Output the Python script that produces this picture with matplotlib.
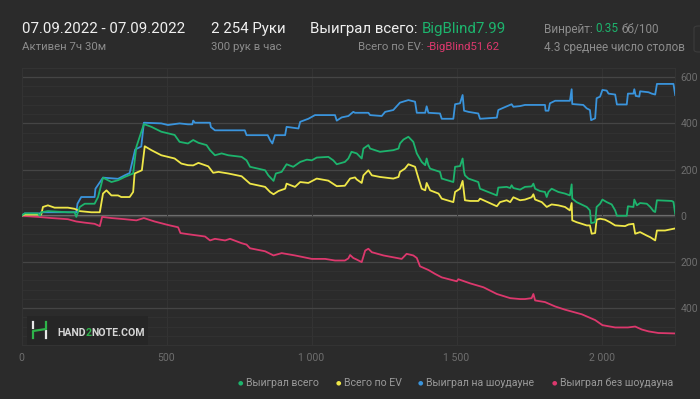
import matplotlib.pyplot as plt
from matplotlib.lines import Line2D
from matplotlib.patches import Rectangle, FancyBboxPatch

plt.rcParams['font.family'] = ['Roboto', 'DejaVu Sans']

# ---- data (hands, big blinds) ----
green_x = [0, 11, 57, 63, 68, 91, 160, 183, 189, 201, 218, 252, 264, 281, 310, 333, 356, 385, 396, 422,
           448, 482, 528, 545, 574, 592, 610, 638, 650, 667, 690, 713, 759, 776, 788, 840, 851, 869, 877,
           897, 914, 937, 961, 984, 1001, 1018, 1058, 1075, 1087, 1115, 1127, 1138, 1156, 1173, 1179, 1196,
           1202, 1236, 1282, 1300, 1305, 1317, 1334, 1351, 1363, 1380, 1392, 1397, 1403, 1409, 1443, 1449,
           1489, 1495, 1512, 1521, 1526, 1529, 1541, 1575, 1581, 1639, 1644, 1673, 1685, 1690, 1696, 1719,
           1736, 1759, 1765, 1771, 1788, 1805, 1811, 1817, 1828, 1851, 1874, 1891, 1897, 1899, 1914, 1949,
           1960, 1964, 1978, 1983, 1995, 2003, 2018, 2035, 2047, 2053, 2087, 2091, 2110, 2113, 2122, 2133,
           2156, 2168, 2179, 2185, 2191, 2242, 2248, 2254]
green_y = [0, 10, 10, 0, 15, 20, 15, 15, -5, 38, 52, 52, 81, 165, 146, 154, 168, 183, 298, 397,
           385, 364, 350, 320, 313, 328, 316, 306, 284, 262, 270, 262, 255, 240, 212, 197, 175, 151, 183,
           190, 223, 212, 233, 243, 240, 252, 255, 240, 223, 233, 248, 277, 270, 248, 291, 306,
           291, 277, 284, 291, 313, 330, 342, 320, 270, 233, 219, 248, 219, 204, 190, 161,
           146, 212, 215, 248, 190, 175, 161, 146, 117, 88, 122, 125, 120, 132, 120, 113,
           125, 127, 139, 117, 107, 103, 81, 103, 117, 103, 96, 88, 136, 74, 59, 38,
           23, -32, -28, 38, 52, 70, 59, 49, 23, 0, 0, 41, 38, 70, 45, 55,
           52, 38, 20, 16, 67, 64, 60, 8]

ev_x = [0, 11, 68, 74, 91, 114, 160, 183, 201, 241, 270, 281, 293, 310, 333, 344, 373, 385, 390, 415,
        425, 448, 482, 528, 551, 574, 592, 610, 644, 661, 679, 713, 759, 788, 840, 857, 869, 886, 909,
        914, 943, 961, 989, 1018, 1058, 1087, 1115, 1133, 1150, 1156, 1173, 1179, 1196, 1208, 1236, 1282,
        1300, 1305, 1322, 1334, 1357, 1369, 1380, 1392, 1397, 1409, 1438, 1449, 1489, 1495, 1512, 1521,
        1529, 1547, 1575, 1581, 1639, 1650, 1673, 1685, 1696, 1719, 1736, 1759, 1765, 1771, 1794, 1811,
        1828, 1851, 1874, 1891, 1897, 1899, 1914, 1932, 1949, 1960, 1966, 1978, 1983, 1995, 2012, 2029,
        2047, 2081, 2093, 2110, 2116, 2133, 2156, 2168, 2185, 2191, 2219, 2254]
ev_y = [0, 5, 5, 38, 45, 35, 35, 30, 20, 15, 15, 96, 110, 88, 88, 81, 81, 103, 183, 197,
        301, 284, 262, 248, 226, 219, 218, 229, 214, 186, 190, 183, 171, 139, 125, 103, 93, 107, 117,
        139, 125, 146, 142, 161, 152, 128, 130, 161, 166, 157, 142, 175, 197, 175, 168, 161,
        168, 190, 204, 223, 212, 161, 117, 110, 142, 110, 96, 74, 59, 103, 117, 151,
        67, 64, 64, 74, 41, 59, 67, 59, 80, 67, 70, 80, 93, 70, 59, 38,
        49, 45, 38, 23, 55, -20, -28, -35, -42, -42, -78, -75, -17, -13, -17, -28,
        -42, -45, -38, -35, -78, -71, -86, -93, -107, -64, -64, -55]

sd_x = [0, 11, 63, 68, 189, 193, 206, 252, 255, 281, 333, 356, 373, 392, 413, 422, 482, 505, 545, 574,
        589, 592, 598, 650, 653, 667, 770, 776, 849, 857, 865, 874, 909, 914, 955, 961, 989, 1012, 1081,
        1087, 1104, 1127, 1144, 1150, 1196, 1202, 1242, 1254, 1282, 1305, 1334, 1357, 1363, 1392, 1397,
        1403, 1443, 1449, 1489, 1495, 1512, 1521, 1526, 1541, 1575, 1581, 1639, 1644, 1662, 1690, 1696,
        1719, 1736, 1805, 1807, 1817, 1822, 1840, 1891, 1897, 1899, 1937, 1949, 1960, 1964, 1978, 1983,
        1995, 2003, 2018, 2024, 2047, 2053, 2087, 2091, 2110, 2113, 2118, 2130, 2133, 2162, 2173, 2185,
        2191, 2248, 2254]
sd_y = [0, 10, 10, 15, 15, 52, 81, 81, 117, 165, 160, 175, 185, 287, 300, 403, 400, 393, 400, 396,
        396, 412, 403, 403, 384, 370, 370, 349, 349, 328, 313, 349, 349, 385, 378, 407, 420, 436, 436,
        412, 426, 432, 450, 446, 446, 436, 432, 450, 458, 490, 501, 494, 446, 446, 474,
        446, 443, 420, 420, 483, 487, 523, 455, 450, 443, 420, 425, 458, 468, 483, 472,
        475, 480, 480, 455, 455, 487, 498, 498, 548, 484, 480, 465, 458, 414, 422, 509,
        516, 545, 542, 529, 525, 482, 482, 529, 529, 548, 519, 516, 539, 535, 529, 525,
        571, 571, 523]

nsd_x = [0, 57, 103, 160, 189, 218, 252, 270, 278, 310, 356, 396, 422, 459, 505, 540, 548, 574, 633, 650,
         667, 702, 719, 759, 776, 788, 840, 869, 897, 943, 1001, 1047, 1081, 1115, 1127, 1133, 1144, 1156,
         1173, 1185, 1196, 1208, 1248, 1311, 1328, 1351, 1363, 1374, 1403, 1426, 1449, 1501, 1506, 1547,
         1593, 1639, 1685, 1719, 1736, 1759, 1765, 1771, 1805, 1840, 1874, 1932, 1978, 2003, 2047, 2091,
         2116, 2139, 2162, 2196, 2254]
nsd_y = [0, -5, -10, -15, -25, -30, -35, -45, -5, -10, -15, -20, -10, -25, -40, -50, -75, -80, -90, -107,
         -100, -107, -100, -119, -125, -141, -154, -172, -162, -172, -187, -187, -194, -194, -185, -170, -183, -190,
         -201, -151, -143, -158, -172, -187, -165, -172, -183, -219, -235, -252, -267, -284, -275, -293,
         -310, -339, -357, -361, -361, -357, -339, -367, -374, -393, -407, -427, -452, -474, -484, -484,
         -480, -493, -501, -508, -510]

xticks = [0, 500, 1000, 1500, 2000]
xtick_labels = ['0', '500', '1 000', '1 500', '2 000']
yticks = [-400, -200, 0, 200, 400, 600]

series_names = ['Выиграл всего', 'Всего по EV', 'Выиграл на шоудауне', 'Выиграл без шоудауна']
colors = ['#1db46d', '#efe748', '#3a94dc', '#dc386d']

bg = '#2b2b2b'
W, H = 700, 399


def fx(x):
    return x / W


def fy(y):
    return 1 - y / H


fig = plt.figure(figsize=(7, 3.99), dpi=100, facecolor=bg)
ax = fig.add_axes([fx(21.5), fy(345), (675.2 - 21.5) / W, (345 - 68) / H])
ax.set_facecolor(bg)

ax.set_xlim(0, 2254)
ax.set_ylim(-560, 640)

# grid
ax.set_yticks(yticks)
ax.set_yticks(range(-560, 641, 40), minor=True)
ax.set_xticks(xticks)
ax.grid(True, which='minor', axis='y', color='#323232', lw=0.7)
ax.grid(True, which='major', axis='y', color='#454545', lw=0.9)
ax.grid(True, which='major', axis='x', color='#343434', lw=0.7)
ax.axhline(0, color='#727272', lw=1.6, zorder=1.5)
for s in ax.spines.values():
    s.set_color('#343434')
    s.set_linewidth(0.7)

ax.yaxis.tick_right()
ax.set_yticklabels([str(abs(v)) for v in yticks])
ax.set_xticklabels(xtick_labels)
ax.tick_params(which='both', length=0, colors='#6e6e6e', labelsize=7.5)
ax.tick_params(axis='x', pad=6)
ax.tick_params(axis='y', pad=4)

ax.plot(nsd_x, nsd_y, color=colors[3], lw=1.3, zorder=3)
ax.plot(sd_x, sd_y, color=colors[2], lw=1.3, zorder=3)
ax.plot(ev_x, ev_y, color=colors[1], lw=1.3, zorder=3)
ax.plot(green_x, green_y, color=colors[0], lw=1.3, zorder=4)

renderer = fig.canvas.get_renderer()


def chain(x, y, parts, size, weight='normal', gap=0):
    for s, c in parts:
        t = fig.text(fx(x), fy(y), s, color=c, fontsize=size, va='center', ha='left', fontweight=weight)
        x += t.get_window_extent(renderer).width + gap
    return x


white = '#f0f0f0'
grey = '#8c8c8c'

# header
fig.text(fx(22), fy(29), '07.09.2022 - 07.09.2022', color=white, fontsize=10.8, va='center')
fig.text(fx(22), fy(47), 'Активен 7ч 30м', color=grey, fontsize=8.2, va='center')
fig.text(fx(211), fy(29), '2 254 Руки', color=white, fontsize=10.8, va='center')
fig.text(fx(211), fy(47), '300 рук в час', color=grey, fontsize=8.2, va='center')
chain(310, 29, [('Выиграл всего:', white), ('BigBlind7.99', colors[0])], 10.8, gap=4)
chain(358, 47, [('Всего по EV:', grey), ('-BigBlind51.62', colors[3])], 8.2, gap=3)
chain(544, 29, [('Винрейт:', grey), ('0.35', colors[0]), ('бб/100', grey)], 8.5, gap=3)
fig.text(fx(544), fy(47), '4.3 среднее число столов', color=grey, fontsize=8.5, va='center')

# button edge at top right
fig.add_artist(FancyBboxPatch((fx(694), fy(52)), fx(30), 26 / H, boxstyle='round,pad=0,rounding_size=0.006',
                              transform=fig.transFigure, facecolor='none', edgecolor='#3c3c3c', lw=0.8))

# watermark
fig.add_artist(Rectangle((fx(27), fy(345)), fx(121), 29 / H, transform=fig.transFigure,
                         facecolor='#262626', edgecolor='none', zorder=5))
for xs, ys, c in [([33, 33], [322, 328], '#e8e8e8'),
                  ([46, 46], [331, 338], '#e8e8e8'),
                  ([33, 33, 46, 46], [338, 331, 329, 322], '#2eb34a')]:
    fig.add_artist(Line2D([fx(v) for v in xs], [fy(v) for v in ys], transform=fig.transFigure,
                          color=c, lw=1.6, zorder=6))
t_x = 57
for s, c in [('HAND', '#d6d6d6'), ('2', '#2eb34a'), ('NOTE.COM', '#d6d6d6')]:
    t = fig.text(fx(t_x), fy(332.5), s, color=c, fontsize=7.6, fontweight='bold', va='center', zorder=6)
    t_x += t.get_window_extent(renderer).width

# legend
leg_x = [240, 338, 420, 554]
for lx, name, c in zip(leg_x, series_names, colors):
    fig.text(fx(lx), fy(383), '●', color=c, fontsize=4.5, va='center', ha='center')
    fig.text(fx(lx + 6), fy(383), name, color='#9a9a9a', fontsize=7.6, va='center')

fig.savefig('out.png', dpi=100, facecolor=bg)
